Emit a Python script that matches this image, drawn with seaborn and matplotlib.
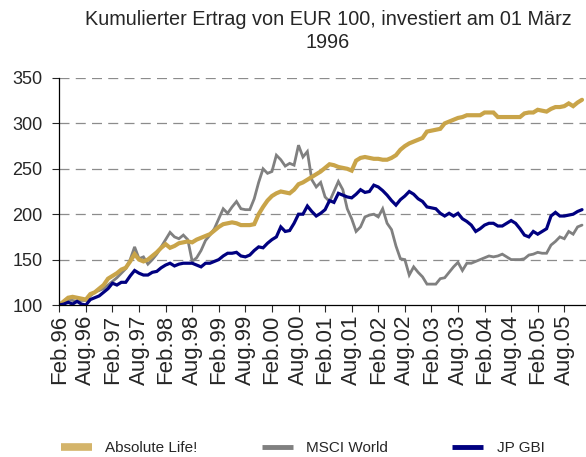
import numpy as np
import pandas as pd
import seaborn as sns
import matplotlib.pyplot as plt
from matplotlib.lines import Line2D

# monthly values, Feb 96 .. Dec 05
absolute_life = [100, 104, 108, 109, 108, 107, 106, 112, 114, 118, 122, 129, 132, 135, 139, 141,
                 148, 156, 150, 148, 150, 154, 158, 163, 167, 163, 165, 168, 169, 170, 169, 172,
                 174, 176, 178, 182, 186, 189, 190, 191, 190, 188, 188, 188, 189, 200, 208, 215,
                 220, 223, 225, 224, 223, 227, 233, 235, 238, 241, 244, 247, 251, 255, 254, 252,
                 251, 250, 248, 259, 262, 263, 262, 261, 261, 260, 260, 262, 265, 271, 275, 278,
                 280, 282, 284, 291, 292, 293, 294, 300, 302, 304, 306, 307, 309, 309, 309, 309,
                 312, 312, 312, 307, 307, 307, 307, 307, 307, 311, 312, 312, 315, 314, 313, 316,
                 318, 318, 319, 322, 319, 323, 326]
msci_world = [100, 103, 106, 105, 104, 105, 105, 110, 114, 116, 118, 122, 126, 130, 135, 140,
              150, 164, 151, 153, 145, 150, 156, 164, 172, 180, 175, 173, 177, 172, 148, 152,
              160, 171, 177, 184, 195, 206, 201, 208, 214, 206, 205, 205, 217, 235, 250, 245,
              247, 265, 260, 253, 256, 254, 276, 263, 269, 238, 230, 235, 219, 214, 225, 236,
              227, 206, 195, 181, 186, 197, 199, 200, 197, 206, 190, 183, 165, 151, 150, 133,
              142, 136, 131, 123, 123, 123, 129, 130, 136, 142, 147, 138, 146, 146, 148, 150,
              152, 154, 153, 154, 156, 153, 150, 150, 150, 151, 155, 156, 158, 157, 157, 166,
              170, 175, 173, 181, 178, 186, 188]
jp_gbi = [100, 101, 103, 101, 104, 101, 100, 106, 108, 110, 114, 118, 124, 122, 125, 125,
          132, 138, 135, 133, 133, 136, 137, 141, 144, 146, 143, 145, 146, 146, 146, 144,
          142, 146, 146, 148, 150, 154, 157, 157, 158, 154, 153, 155, 160, 164, 163, 168,
          172, 175, 186, 181, 182, 190, 200, 200, 209, 203, 198, 201, 205, 215, 213, 223,
          221, 219, 218, 222, 227, 224, 225, 232, 230, 226, 221, 215, 210, 216, 220, 225,
          222, 217, 214, 208, 207, 206, 201, 198, 201, 198, 201, 195, 192, 188, 181, 184,
          188, 190, 190, 187, 187, 190, 193, 190, 184, 177, 175, 181, 178, 181, 184, 198,
          202, 198, 198, 199, 200, 203, 205]

tick_labels = ["Feb.96", "Aug.96", "Feb.97", "Aug.97", "Feb.98", "Aug.98", "Feb.99", "Aug.99",
               "Feb.00", "Aug.00", "Feb.01", "Aug.01", "Feb.02", "Aug.02", "Feb.03", "Aug.03",
               "Feb.04", "Aug.04", "Feb.05", "Aug.05"]

series = [("MSCI World", msci_world, "#808080", 2.0),
          ("Absolute Life!", absolute_life, "#C9A449", 3.0),
          ("JP GBI", jp_gbi, "#000080", 2.3)]

sns.set_style("white")
plt.rcParams['font.family'] = ['Liberation Sans', 'DejaVu Sans']

fig = plt.figure(figsize=(5.86, 4.57), dpi=100)
ax = fig.add_axes([59.3 / 586, 152 / 457, 1 - 59.3 / 586, 227 / 457])

months = np.arange(len(absolute_life))
for name, vals, col, lw in series:
    df = pd.DataFrame({"month": months, "value": vals})
    sns.lineplot(data=df, x="month", y="value", color=col, linewidth=lw, ax=ax,
                 solid_joinstyle="miter")

ax.set_xlim(0, 118.9)
ax.set_ylim(100, 350)
ax.set_yticks([100, 150, 200, 250, 300, 350])
ax.set_xticks(np.arange(0, 6 * len(tick_labels), 6))
ax.set_xticklabels(tick_labels, rotation=90, fontsize=16)
ax.tick_params(axis='y', labelsize=13, length=5, width=0.8, direction='out', pad=7, left=True)
ax.tick_params(axis='x', length=5, width=0.8, direction='out', pad=2, bottom=True)
ax.set_xlabel("")
ax.set_ylabel("")

for v in [150, 200, 250, 300, 350]:
    ax.axhline(v, color="#8c8c8c", linewidth=0.9, linestyle=(0, (8, 5)), zorder=0)

for s in ["top", "right"]:
    ax.spines[s].set_visible(False)
for s in ["left", "bottom"]:
    ax.spines[s].set_color("black")
    ax.spines[s].set_linewidth(0.9)
ax.spines["left"].set_bounds(100, 350)

fig.text(328 / 586, 1 - 10 / 457, "Kumulierter Ertrag von EUR 100, investiert am 01 März\n1996",
         ha="center", va="top", fontsize=14.3, linespacing=1.3)

handles = [Line2D([], [], color="#D4B46A", linewidth=5.5, solid_capstyle="butt"),
           Line2D([], [], color="#808080", linewidth=3.5, solid_capstyle="butt"),
           Line2D([], [], color="#000080", linewidth=3.5, solid_capstyle="butt")]
fig.legend(handles, ["Absolute Life!", "MSCI World", "JP GBI"], loc="center left",
           bbox_to_anchor=(55 / 586, 1 - 448 / 457), ncol=3, frameon=False, fontsize=11,
           handlelength=2.0, handletextpad=0.9, columnspacing=4.2, borderaxespad=0)

fig.savefig("out.png", dpi=100)
